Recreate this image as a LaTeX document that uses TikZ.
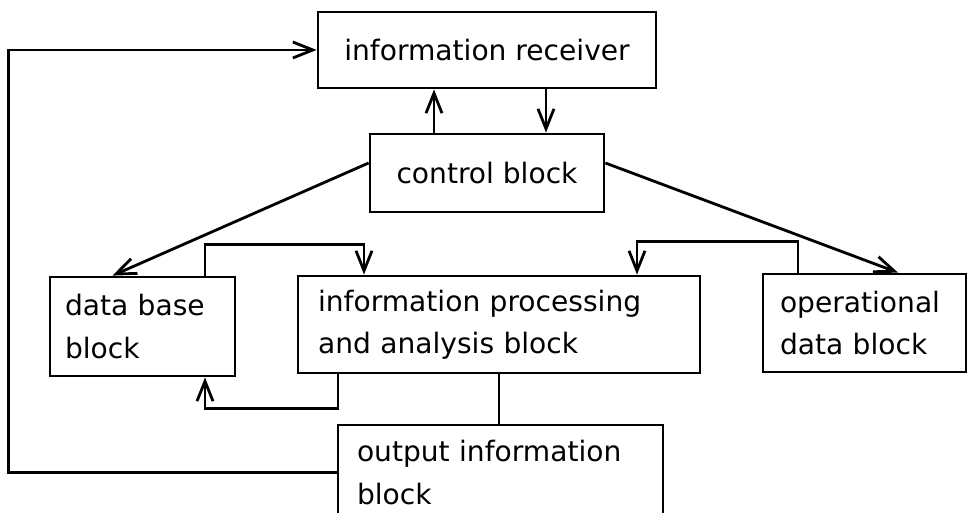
\documentclass[tikz,border=0pt]{standalone}
\usepackage{fontspec}
\setmainfont{DejaVu Sans}
\usetikzlibrary{arrows.meta,calc}

\begin{document}
\begin{tikzpicture}[x=0.02cm, y=-0.02cm,
    line width=1.6pt,
    >={Straight Barb[length=0.4cm,width=0.32cm]},
    blk/.style={rectangle, draw, inner xsep=0pt, inner ysep=0pt,
      font=\fontsize{16}{24}\selectfont},
    lblk/.style={blk, align=left}
    ]
\clip (0,0) rectangle (968,513);
\node[blk, minimum width=6.76cm, minimum height=1.52cm] (rcv) at (487,50) {information receiver};
\node[blk, minimum width=4.68cm, minimum height=1.56cm] (ctl) at (487,173) {control block};
\node[lblk, minimum width=3.7cm, minimum height=1.98cm, text width=3.1cm] (db) at (142.5,326.5) {data base\\block};
\node[lblk, minimum width=8.04cm, minimum height=1.94cm, text width=7.24cm] (proc) at (499,324.5) {information processing\\and analysis block};
\node[lblk, minimum width=4.06cm, minimum height=1.96cm, text width=3.38cm] (op) at (864.5,323) {operational\\data block};
\node[lblk, minimum width=6.5cm, minimum height=1.9cm, text width=5.74cm] (out) at (500.5,472.5) {output information\\block};
\draw[->] ($(ctl.north)+(-53,0)$) -- ($(rcv.south)+(-53,0)$);
\draw[->] ($(rcv.south)+(59,0)$) -- ($(ctl.north)+(59,0)$);
\draw[->] ($(ctl.west)+(0,-10)$) -- ($(db.north)+(-30,0)$);
\draw[->] ($(ctl.east)+(0,-10)$) -- ($(op.north)+(33.5,0)$);
\draw[->] ($(db.north)+(62.5,0)$) -- ++(0,-31) -| ($(proc.north)+(-135,0)$);
\draw[->] ($(proc.south)+(-161,0)$) -- ++(0,34) -| ($(db.south)+(62.5,0)$);
\draw[->] ($(op.north)+(-66.5,0)$) -- ++(0,-31) -| ($(proc.north)+(138,0)$);
\draw (proc.south) -- (proc.south |- out.north);
\draw[->] (out.west) -- ++(-328,0) |- (rcv.west);
\end{tikzpicture}
\end{document}
